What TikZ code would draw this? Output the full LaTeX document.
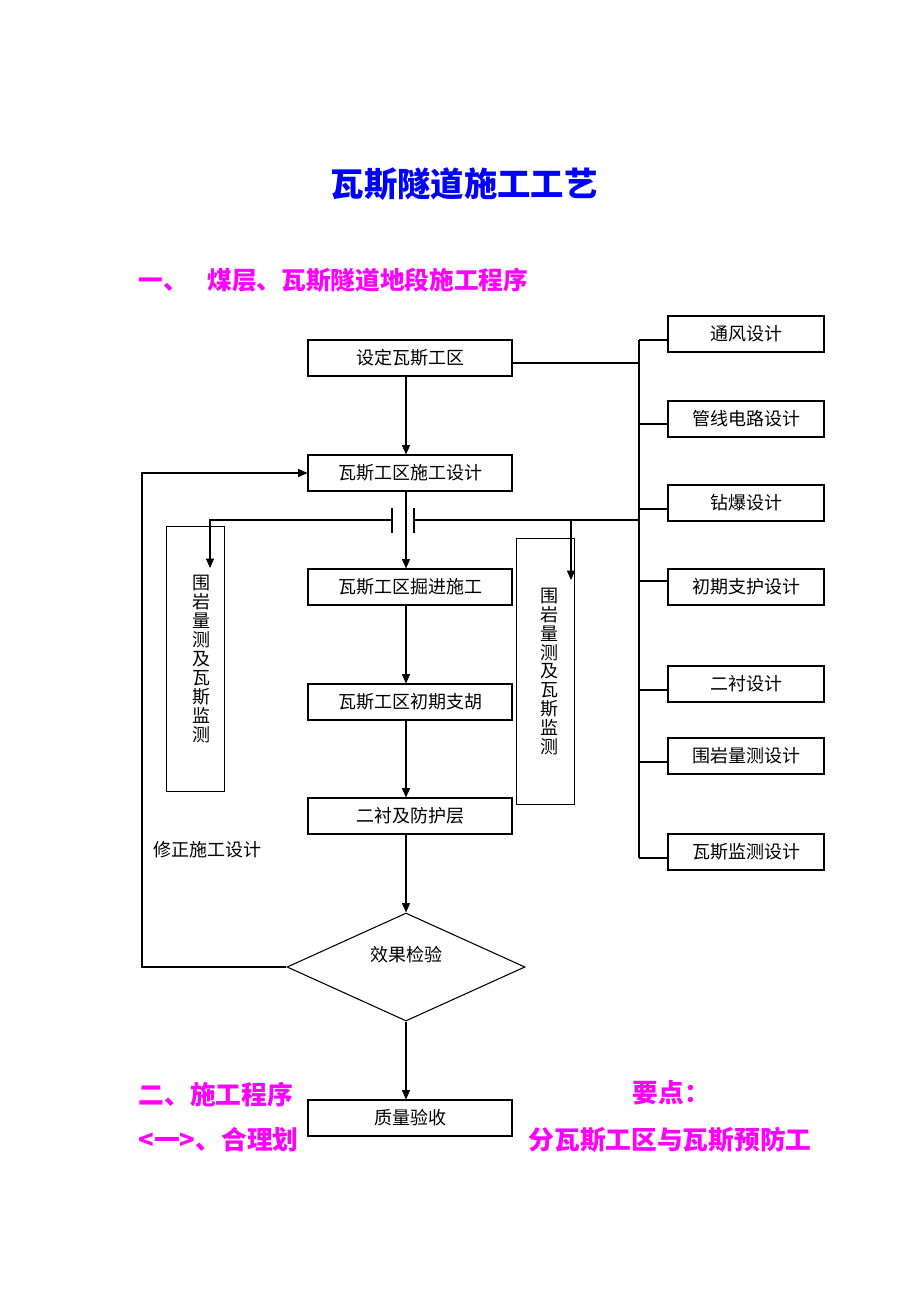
\documentclass[tikz,border=0pt]{standalone}
\usepackage{fontspec}
\setmainfont{Noto Sans CJK SC}
\usetikzlibrary{shapes.geometric,calc,arrows.meta}
\definecolor{titleblue}{RGB}{0,0,255}
\definecolor{headpink}{RGB}{255,0,255}
\tikzset{
  stepbox/.style={draw, minimum width=153pt, minimum height=27pt, inner sep=0pt,
    font=\fontsize{13.5}{16}\selectfont},
  designbox/.style={draw, minimum width=117pt, minimum height=27pt, inner sep=0pt,
    font=\fontsize{13.5}{16}\selectfont},
  monbox/.style={draw, minimum width=43.5pt, minimum height=199pt, inner sep=0pt,
    align=center, font=\fontsize{13.5}{14.2}\selectfont},
  pinktext/.style={anchor=west, text=headpink, inner sep=0pt},
}
\begin{document}
\begin{tikzpicture}[x=0.75pt, y=-0.75pt, line width=0.8pt,
    >={Triangle[length=7pt,width=6pt]}]
  \useasboundingbox (0,0) rectangle (920,1302);
  % headings
  \node[text=titleblue, font=\fontsize{25}{30}\selectfont\bfseries] (title)
    at (464,184) {瓦斯隧道施工工艺};
  \node[pinktext, font=\fontsize{18.5}{22}\selectfont\bfseries] (part1)
    at (138,280) {一、\hspace{0.8em}煤层、瓦斯隧道地段施工程序};
  % main column
  \node[stepbox] (set) at (410,358) {设定瓦斯工区};
  \node[stepbox] (design) at (410,473) {瓦斯工区施工设计};
  \node[stepbox] (dig) at (410,587) {瓦斯工区掘进施工};
  \node[stepbox] (support) at (410,702) {瓦斯工区初期支胡};
  \node[stepbox] (lining) at (410,816) {二衬及防护层};
  \node[diamond, draw, aspect=2.2, minimum width=178.5pt, minimum height=81pt,
    inner sep=0pt] (check) at (406,967) {};
  \node[font=\fontsize{13.5}{16}\selectfont] (checktxt) at (406,955) {效果检验};
  \node[stepbox] (accept) at (410,1118) {质量验收};
  % design items on the right
  \foreach \name/\y/\txt in {vent/334/通风设计, pipe/419/管线电路设计,
      blast/503/钻爆设计, prim/587/初期支护设计, sec/684/二衬设计,
      rock/756/围岩量测设计, gas/852/瓦斯监测设计}
    \node[designbox] (\name) at (746,\y) {\txt};
  % monitoring boxes
  \node[monbox] (monl) at (195.5,659) {\hspace{9pt}围\\\hspace{9pt}岩\\\hspace{9pt}量\\\hspace{9pt}测\\\hspace{9pt}及\\\hspace{9pt}瓦\\\hspace{9pt}斯\\\hspace{9pt}监\\\hspace{9pt}测};
  \node[monbox] (monr) at (545.5,671.5) {\hspace{6pt}围\\\hspace{6pt}岩\\\hspace{6pt}量\\\hspace{6pt}测\\\hspace{6pt}及\\\hspace{6pt}瓦\\\hspace{6pt}斯\\\hspace{6pt}监\\\hspace{6pt}测};
  % bus
  \coordinate (bustop) at (639,340);
  \coordinate (busbot) at (639,858);
  \draw (bustop) -- (busbot);
  \draw ($(set.east)+(0,5)$) -- ($(set.east -| bustop)+(0,5)$);
  \foreach \name/\d in {vent/6, pipe/5, blast/6, prim/-6, sec/6, rock/6, gas/6}
    \draw ($(\name.west)+(0,\d)$) -- ($(\name.west -| bustop)+(0,\d)$);
  % split line with gap
  \coordinate (gapl) at (392,520);
  \coordinate (gapr) at (414,520);
  \draw ($(gapl)+(0,-12)$) -- ($(gapl)+(0,13)$);
  \draw ($(gapr)+(0,-12)$) -- ($(gapr)+(0,13)$);
  \coordinate (montipl) at (210,568);
  \coordinate (montipr) at (571,580);
  \draw[->] (gapl) -| (montipl);
  \draw (gapr) -- (gapr -| bustop);
  \draw[->] (gapr -| montipr) -- (montipr);
  % main flow
  \draw[->] (set.south -| check) -- (design.north -| check);
  \draw[->] (design.south -| check) -- (dig.north -| check);
  \draw[->] (dig.south -| check) -- (support.north -| check);
  \draw[->] (support.south -| check) -- (lining.north -| check);
  \draw[->] (lining.south -| check) -- (check.north);
  \draw[->] (check.south) -- (accept.north -| check);
  % feedback
  \coordinate (fbk) at (142,967);
  \draw[->] (check.west) -- (fbk) |- (design.west);
  \node[font=\fontsize{13.5}{16}\selectfont] (fixlbl) at (207,850) {修正施工设计};
  % text below
  \node[pinktext, font=\fontsize{19.3}{22}\selectfont\bfseries] (part2)
    at (138,1095) {二、施工程序};
  \node[pinktext, font=\fontsize{19.3}{22}\selectfont\bfseries] (keyp)
    at (632,1093) {要点：};
  \node[pinktext, font=\fontsize{19.3}{22}\selectfont\bfseries] (sub1a)
    at (138,1140) {<一>、合理划};
  \node[pinktext, font=\fontsize{19.3}{22}\selectfont\bfseries] (sub1b)
    at (528,1140) {分瓦斯工区与瓦斯预防工};
\end{tikzpicture}
\end{document}
